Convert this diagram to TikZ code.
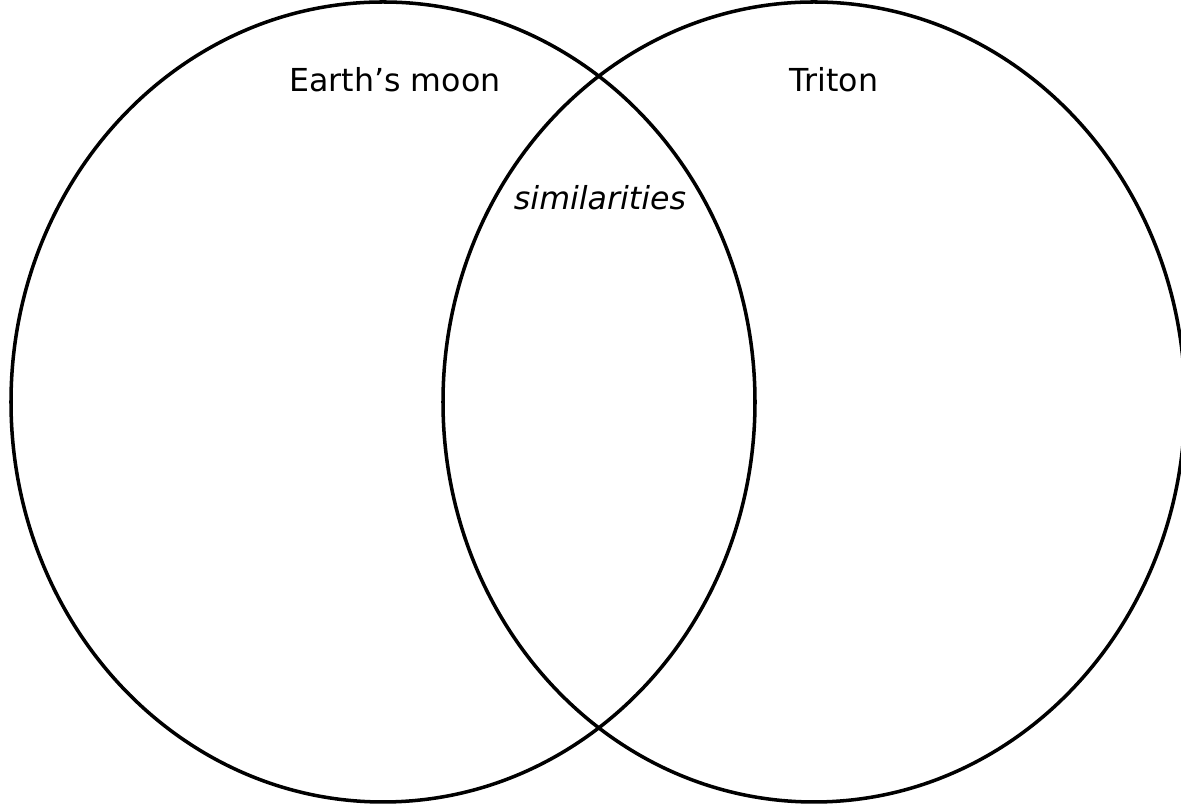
\documentclass[tikz,border=0pt]{standalone}
\usepackage{fontspec}
\setmainfont{DejaVu Sans}
\usepackage{tikz}
\usetikzlibrary{positioning}

\begin{document}
\begin{tikzpicture}[
    x=0.01cm, y=-0.01cm,
    ring/.style={draw, line width=1pt},
    lbl/.style={font=\fontsize{9}{11}\selectfont, inner sep=1pt},
    mid/.style={font=\fontsize{9}{11}\selectfont\itshape, inner sep=1pt}
]
    \useasboundingbox (0,0) rectangle (1181,804);
    \clip (0,0) rectangle (1181,804);

    % the two sets
    \draw[ring] (383,402) ellipse (372 and 400);
    \draw[ring] (814,402) ellipse (371 and 400);

    % labels
    \node[lbl] (moon) at (395,80) {Earth’s moon};
    \node[lbl] (triton) at (834,80) {Triton};
    \node[mid] (common) at (600,198) {similarities};
\end{tikzpicture}
\end{document}
